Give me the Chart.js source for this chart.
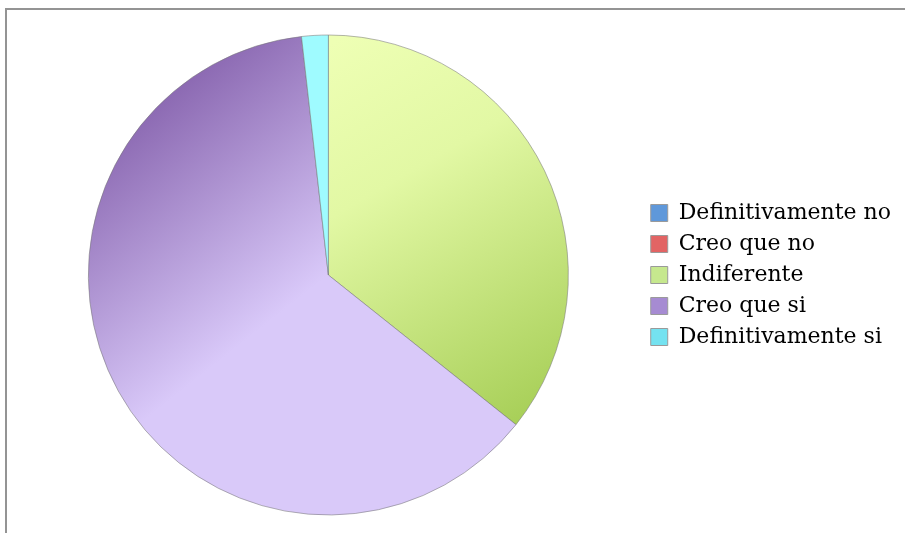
<!DOCTYPE html>
<html>
<head>
<meta charset="utf-8">
<script src="https://cdn.jsdelivr.net/npm/chart.js@4/dist/chart.umd.min.js"></script>
<style>
  body { margin: 0; background: #fff; }
  #wrap { position: relative; width: 905px; height: 533px; }
  #frame { position: absolute; left: 5px; top: 8px; right: 0; bottom: 0;
           border-top: 2px solid #949494; border-left: 2px solid #949494; }
  canvas { position: absolute; left: 0; top: 0; }
</style>
</head>
<body>
<div id="wrap">
  <div id="frame"></div>
  <canvas id="pieChart" width="905" height="533"></canvas>
</div>
<script>
// Survey answers
const categories = ['Definitivamente no', 'Creo que no', 'Indiferente', 'Creo que si', 'Definitivamente si'];
const responses = [0, 0, 20, 35, 1];
const legendColors = ['#5f98da', '#e26464', '#c6e88e', '#a68bd2', '#74e2f0'];
const pieRadius = 240;

function sliceFill(context) {
    const chart = context.chart;
    const area = chart.chartArea;
    if (!area || !isFinite(area.left) || !isFinite(area.top)) return legendColors[context.dataIndex];
    const cx = (area.left + area.right) / 2;
    const cy = (area.top + area.bottom) / 2;
    const r = pieRadius;
    const ctx = chart.ctx;
    let g;
    if (context.dataIndex === 2) {
        g = ctx.createLinearGradient(cx - 0.1 * r, cy - 0.9 * r, cx + 0.8 * r, cy + 0.65 * r);
        g.addColorStop(0, '#eeffb4');
        g.addColorStop(0.35, '#e2f8a4');
        g.addColorStop(1, '#a6ce56');
        return g;
    }
    if (context.dataIndex === 3) {
        g = ctx.createLinearGradient(cx - 0.75 * r, cy - 0.95 * r, cx, cy);
        g.addColorStop(0, '#7c56a4');
        g.addColorStop(1, '#d9c9f9');
        return g;
    }
    if (context.dataIndex === 4) return '#9ffbff';
    return legendColors[context.dataIndex];
}

let ctx = document.getElementById('pieChart').getContext('2d');
let chart = new Chart(ctx, {
    type: 'pie',
    data: {
        labels: categories,
        datasets: [{
            data: responses,
            backgroundColor: sliceFill,
            borderColor: 'rgba(120, 120, 120, 0.55)',
            borderWidth: function(c) { return responses[c.dataIndex] > 0 ? 1 : 0; }
        }]
    },
    options: {
        responsive: false,
        animation: false,
        radius: pieRadius,
        layout: { padding: { top: 17, left: 15, right: 4, bottom: 0 } },
        plugins: {
            tooltip: { enabled: false },
            legend: {
                position: 'right',
                align: 'center',
                labels: {
                    font: { family: 'DejaVu Serif', size: 22 },
                    color: '#1a1a1a',
                    boxWidth: 17,
                    boxHeight: 17,
                    padding: 9,
                    generateLabels: function(ch) {
                        return categories.map(function(name, i) {
                            return {
                                text: name,
                                fillStyle: legendColors[i],
                                strokeStyle: '#9a9a9a',
                                lineWidth: 1,
                                hidden: false,
                                index: i
                            };
                        });
                    }
                }
            }
        }
    }
});
</script>
</body>
</html>
